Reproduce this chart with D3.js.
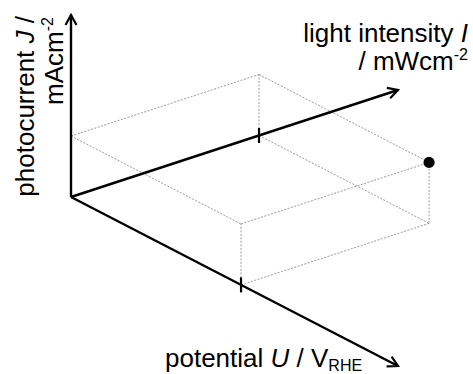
<!DOCTYPE html>
<html>
<head>
<meta charset="utf-8">
<script src="https://cdn.jsdelivr.net/npm/d3@7"></script>
<style>
  html, body { margin: 0; padding: 0; background: #fff; }
  svg { display: block; }
  text { font-family: "Liberation Sans", Arial, Helvetica, sans-serif; fill: #000; }
</style>
</head>
<body>
<svg id="chart" width="473" height="374"></svg>
<script>
// Axes of the 3D schematic: potential U, light intensity I, photocurrent J
const axisKeys = ["U", "I", "J"];
const axisLength = [1, 1, 1];
// Operating point (normalised), marked on the U and I axes and as a dot
const pointU = [0.52];
const pointI = [0.575];
const pointJ = [0.335];

const svg = d3.select("#chart");
const origin = { x: 71, y: 197 };

// Oblique projection: each axis maps onto its own screen vector
const sxU = d3.scaleLinear().domain([0, 1]).range([0, 327]);
const syU = d3.scaleLinear().domain([0, 1]).range([0, 169]);
const sxI = d3.scaleLinear().domain([0, 1]).range([0, 327]);
const syI = d3.scaleLinear().domain([0, 1]).range([0, -107]);
const syJ = d3.scaleLinear().domain([0, 1]).range([0, -182]);

function project(u, i, j) {
  return [origin.x + sxU(u) + sxI(i), origin.y + syU(u) + syI(i) + syJ(j)];
}

// Arrowhead marker (open chevron)
svg.append("defs").append("marker")
  .attr("id", "arrow")
  .attr("viewBox", "-12 -7 14 14")
  .attr("refX", 0).attr("refY", 0)
  .attr("markerUnits", "userSpaceOnUse")
  .attr("markerWidth", 14).attr("markerHeight", 14)
  .attr("orient", "auto")
  .append("path")
  .attr("d", "M-10,-5.5 L0,0 L-10,5.5")
  .attr("fill", "none")
  .attr("stroke", "#000")
  .attr("stroke-width", 2.2)
  .attr("stroke-linejoin", "miter");

// Dashed box edges spanned by the operating point
const P = [pointU[0], pointI[0], pointJ[0]];
const corners = [];
for (let a = 0; a < 2; a++)
  for (let b = 0; b < 2; b++)
    for (let c = 0; c < 2; c++)
      corners.push([a, b, c]);
const edges = [];
corners.forEach(c1 => corners.forEach(c2 => {
  const diff = c1.map((v, k) => c2[k] - v);
  const nz = diff.filter(d => d !== 0).length;
  if (nz === 1 && diff.some(d => d > 0)) {
    const startsAtOrigin = c1.every(v => v === 0);
    if (!startsAtOrigin) edges.push([c1, c2]);
  }
}));

const line = d3.line();
svg.append("g").selectAll("path")
  .data(edges)
  .join("path")
  .attr("d", e => line(e.map(c => project(c[0] * P[0], c[1] * P[1], c[2] * P[2]))))
  .attr("fill", "none")
  .attr("stroke", "#9a9a9a")
  .attr("stroke-width", 1)
  .attr("stroke-dasharray", "2,1.5");

// Axes
const axisEnds = axisKeys.map((k, idx) => {
  const v = [0, 0, 0];
  v[idx] = axisLength[idx];
  return project(v[0], v[1], v[2]);
});
svg.append("g").selectAll("path")
  .data(axisEnds)
  .join("path")
  .attr("d", e => line([[origin.x, origin.y], e]))
  .attr("fill", "none")
  .attr("stroke", "#000")
  .attr("stroke-width", 2.4)
  .attr("marker-end", "url(#arrow)");

// Tick marks on the U and I axes
const ticks = [project(pointU[0], 0, 0), project(0, pointI[0], 0)];
svg.append("g").selectAll("path")
  .data(ticks)
  .join("path")
  .attr("d", t => line([[t[0], t[1] - 7.5], [t[0], t[1] + 7.5]]))
  .attr("stroke", "#000")
  .attr("stroke-width", 2.2);

// Operating point
const dot = project(P[0], P[1], P[2]);
svg.append("circle")
  .attr("cx", dot[0]).attr("cy", dot[1])
  .attr("r", 5.6)
  .attr("fill", "#000");

// Labels
const fs = 26, fsSmall = 16;

// Vertical axis label (rotated, two lines)
const lj = svg.append("g").attr("transform", "translate(34,16) rotate(-90)");
const t1 = lj.append("text").attr("x", 0).attr("y", 0)
  .attr("text-anchor", "end").attr("font-size", fs);
t1.append("tspan").text("photocurrent ");
t1.append("tspan").attr("font-style", "italic").text("J");
t1.append("tspan").text(" /");
const t2 = lj.append("text").attr("x", -1).attr("y", 29)
  .attr("text-anchor", "end").attr("font-size", fs);
t2.append("tspan").text("mAcm");
t2.append("tspan").attr("font-size", fsSmall).attr("dy", -10).text("-2");

// Light intensity label
const li1 = svg.append("text").attr("x", 468).attr("y", 41.5)
  .attr("text-anchor", "end").attr("font-size", fs);
li1.append("tspan").text("light intensity ");
li1.append("tspan").attr("font-style", "italic").text("I");
const li2 = svg.append("text").attr("x", 468).attr("y", 70)
  .attr("text-anchor", "end").attr("font-size", fs);
li2.append("tspan").text("/ mWcm");
li2.append("tspan").attr("font-size", fsSmall).attr("dy", -10).text("-2");

// Potential label
const pu = svg.append("text").attr("x", 165).attr("y", 367)
  .attr("font-size", fs);
pu.append("tspan").text("potential ");
pu.append("tspan").attr("font-style", "italic").text("U");
pu.append("tspan").text(" / V");
pu.append("tspan").attr("font-size", fsSmall).attr("dy", 4).text("RHE");
</script>
</body>
</html>
